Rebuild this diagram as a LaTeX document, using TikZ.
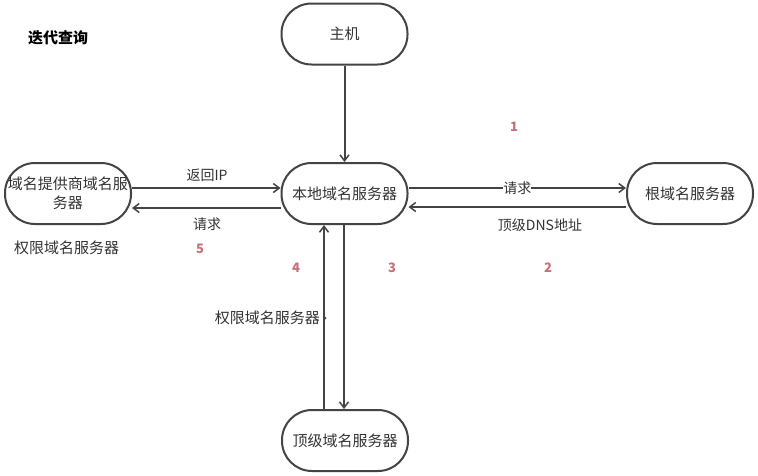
\documentclass[tikz,border=0pt]{standalone}
\usepackage{fontspec}
\setmainfont{Noto Sans CJK SC}
\usetikzlibrary{arrows.meta}
\definecolor{ln}{HTML}{444444}
\definecolor{txt}{HTML}{333333}
\definecolor{num}{HTML}{C8707A}
\begin{document}
\begin{tikzpicture}[x=1pt,y=-1pt,
  srv/.style={draw=ln,line width=2pt,rounded corners=30pt,minimum width=126pt,minimum height=61pt,
    font=\fontsize{15pt}{19pt}\selectfont,text=txt,align=center,inner sep=0pt},
  conn/.style={draw=ln,line width=2pt,-{Straight Barb[length=6pt,width=9pt,line width=1.5pt]}},
  lbl/.style={font=\fontsize{14pt}{17pt}\selectfont,text=txt,inner sep=1pt},
  biglbl/.style={font=\fontsize{15pt}{18pt}\selectfont,text=txt,inner sep=1pt},
  numlbl/.style={font=\fontsize{13pt}{16pt}\selectfont\bfseries,text=num}]
\path[use as bounding box,fill=white] (0,0) rectangle (758,475);
\node[font=\fontsize{15pt}{18pt}\selectfont\bfseries,text=black] (title) at (58,38) {迭代查询};
\node[srv] (host) at (344.5,34) {主机};
\node[srv] (local) at (344.5,193.5) {本地域名服务器};
\node[srv] (root) at (690,193.5) {根域名服务器};
\node[srv] (prov) at (68,193.5) {域名提供商域名服\\务器};
\node[srv] (tld) at (345,440.5) {顶级域名服务器};
% host -> local
\draw[conn] (host.south) -- (local.north);
% local <-> root
\draw[conn] (local.east |- 0,188) -- node[lbl,fill=white,inner sep=0pt] (q1) {请求} (root.west |- 0,188);
\draw[conn] (root.west |- 0,207) -- (local.east |- 0,207);
\node[lbl] (dns) at (540,225) {顶级DNS地址};
% local <-> provider
\draw[conn] (prov.east |- 0,188) -- (local.west |- 0,188);
\node[lbl] (ret) at (207,175) {返回IP};
\draw[conn] (local.west |- 0,208) -- (prov.east |- 0,208);
\node[lbl] (q2) at (207,224) {请求};
% local <-> tld
\draw[conn] (344,0 |- local.south) -- (344,0 |- tld.north);
\draw[conn] (324,0 |- tld.north) -- (324,0 |- local.south);
\node[biglbl,anchor=east] (auth1) at (321,318) {权限域名服务器};
\fill[ln] (325,318) circle (1.5pt);
\node[biglbl,anchor=west] (auth2) at (13,248) {权限域名服务器};
% numbers
\node[numlbl] (n1) at (514,127) {1};
\node[numlbl] (n2) at (548,268) {2};
\node[numlbl] (n3) at (392,268) {3};
\node[numlbl] (n4) at (296,268) {4};
\node[numlbl] (n5) at (200,249) {5};
\end{tikzpicture}
\end{document}
